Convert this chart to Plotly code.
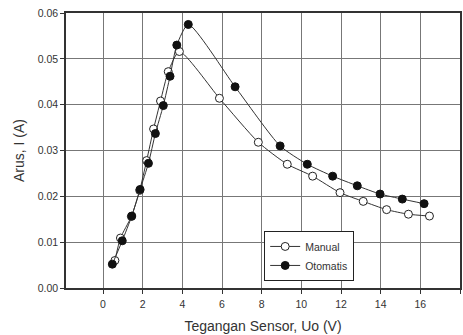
import plotly.graph_objects as go

manual_x = [0.6, 0.88, 1.43, 1.85, 2.2, 2.55, 2.9, 3.29, 3.85, 5.87, 7.83, 9.29, 10.57, 11.95, 13.12, 14.3, 15.4, 16.46]
manual_y = [0.0060, 0.0109, 0.0156, 0.0213, 0.0278, 0.0347, 0.0408, 0.0472, 0.0516, 0.0414, 0.0318, 0.0270, 0.0244, 0.0208, 0.0189, 0.0171, 0.0161, 0.0157]

oto_x = [0.47, 0.97, 1.45, 1.87, 2.29, 2.64, 3.04, 3.38, 3.72, 4.3, 6.66, 8.93, 10.3, 11.58, 12.82, 13.97, 15.09, 16.19]
oto_y = [0.0052, 0.0103, 0.0157, 0.0215, 0.0272, 0.0337, 0.0398, 0.0462, 0.0530, 0.0575, 0.0439, 0.0310, 0.0270, 0.0244, 0.0223, 0.0205, 0.0194, 0.0184]

x_ticks = [0, 2, 4, 6, 8, 10, 12, 14, 16, 18]
y_ticks = [0.00, 0.01, 0.02, 0.03, 0.04, 0.05, 0.06]

font = "Liberation Sans, Arial, sans-serif"

fig = go.Figure()
fig.add_trace(go.Scatter(
    x=manual_x, y=manual_y, name="Manual", mode="lines+markers",
    line=dict(color="#333333", width=1, shape="spline", smoothing=0.6),
    marker=dict(symbol="circle", size=8, color="white", line=dict(color="#222222", width=1)),
))
fig.add_trace(go.Scatter(
    x=oto_x, y=oto_y, name="Otomatis", mode="lines+markers",
    line=dict(color="#333333", width=1, shape="spline", smoothing=0.6),
    marker=dict(symbol="circle", size=8, color="#111111", line=dict(color="#111111", width=1)),
))

fig.update_layout(
    width=463, height=335,
    margin=dict(l=66, r=3, t=13, b=47, autoexpand=False),
    paper_bgcolor="white", plot_bgcolor="white",
    font=dict(family=font, size=10.5, color="#333333"),
    showlegend=True,
    legend=dict(
        x=0.503, y=0.2075, xanchor="left", yanchor="top",
        bordercolor="#222222", borderwidth=1, bgcolor="white",
        font=dict(size=10.5, color="#333333"), tracegroupgap=0,
        itemwidth=30,
    ),
    xaxis=dict(
        range=[-1.866, 18], tickvals=x_ticks, ticktext=[str(v) for v in x_ticks],
        showgrid=True, gridcolor="#777777", gridwidth=1,
        showline=True, linecolor="#333333", linewidth=1.5, mirror=True,
        ticks="outside", ticklen=4, tickcolor="#333333", zeroline=False,
        automargin=False, ticklabelstandoff=2,
        title=dict(text="Tegangan Sensor, Uo (V)", font=dict(size=14, color="#333333"), standoff=12),
    ),
    yaxis=dict(
        range=[0, 0.06], tickvals=y_ticks, ticktext=["%.2f" % v for v in y_ticks],
        showgrid=True, gridcolor="#777777", gridwidth=1,
        showline=True, linecolor="#333333", linewidth=1.5, mirror=True,
        ticks="outside", ticklen=4, tickcolor="#333333", zeroline=False,
        automargin=False,
        title=dict(text="Arus, I (A)", font=dict(size=14, color="#333333"), standoff=10),
    ),
)

fig.write_html(
    "out.html",
    config={"displayModeBar": False},
    post_script="document.body.style.margin='0';document.body.style.overflow='hidden';",
)
